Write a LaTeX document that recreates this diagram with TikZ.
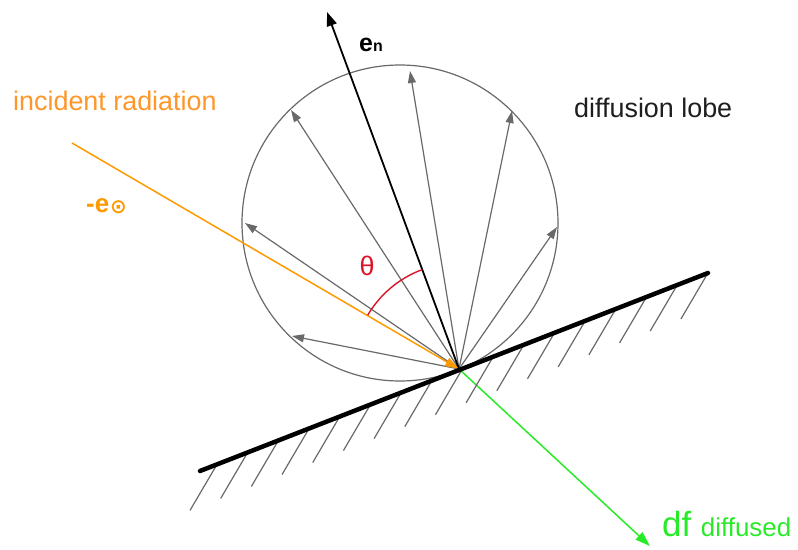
\documentclass[tikz,border=0pt]{standalone}
\usepackage{fontspec}
\setmainfont{Liberation Sans}
\newfontfamily\symfont{DejaVu Sans}
\usetikzlibrary{arrows.meta,calc}
\definecolor{orng}{RGB}{255,153,0}
\definecolor{orngtxt}{RGB}{255,150,40}
\definecolor{grn}{RGB}{40,235,40}
\definecolor{redarc}{RGB}{220,20,40}
\definecolor{lobegray}{RGB}{105,105,105}
\definecolor{darktxt}{RGB}{30,30,30}
\tikzset{
  lobe/.style={draw=lobegray, line width=1.2bp},
  ray/.style={draw=lobegray, line width=1.2bp, -{Triangle[length=12bp,width=8bp]}},
  normalvec/.style={draw=black, line width=1.8bp, -{Triangle[length=14bp,width=10bp]}},
  incident/.style={draw=orng, line width=1.5bp, -{Triangle[length=14bp,width=9bp]}},
  diffusedvec/.style={draw=grn, line width=1.5bp, -{Triangle[length=15bp,width=10bp]}},
  surface/.style={draw=black, line width=4.5bp, line cap=round},
  hatch/.style={draw=lobegray, line width=1.2bp},
  txt/.style={inner sep=0pt, anchor=base west},
}
\begin{document}
\begin{tikzpicture}[x=1bp,y=-1bp]
\useasboundingbox (0,0) rectangle (798,550);
% key points
\coordinate (P) at (459,369);
\coordinate (SL) at (200,471);
\coordinate (SR) at (708,273);
\coordinate (C) at (400,223);
% lobe
\draw[lobe] (C) circle[radius=158];
\coordinate (d1) at (291,110);
\coordinate (d2) at (410,71);
\coordinate (d3) at (512,111);
\coordinate (d4) at (245,223);
\coordinate (d5) at (557,227);
\coordinate (d6) at (292,336);
\foreach \d in {d1,d2,d3,d4,d5,d6} \draw[ray] (P) -- (\d);
% normal
\coordinate (N) at (327,12);
\draw[normalvec] (P) -- (N);
% incident
\coordinate (I) at (72,143);
\draw[incident] (I) -- (P);
% diffused
\coordinate (D) at (650,546);
\draw[diffusedvec] (P) -- (D);
% angle
\draw[draw=redarc, line width=1.4bp] (P) ++(-110.3:106) arc[start angle=-110.3, end angle=-149.5, radius=106];
% surface
\foreach \k in {0,...,16}{
  \pgfmathsetmacro{\t}{0.0335+0.0604*\k}
  \draw[hatch] ($(SL)!\t!(SR)$) -- ++(-27,46);
}
\draw[surface] (SL) -- (SR);
% labels
\node[txt, text=orngtxt, font=\fontsize{27}{30}\selectfont] (lblinc) at (13,111) {incident radiation};
\node[txt, text=darktxt, font=\fontsize{27}{30}\selectfont] (lbllobe) at (574,118) {diffusion lobe};
\node[txt, text=black] (lblen) at (359,52) {\fontsize{25}{28}\selectfont\bfseries e\fontsize{16}{18}\selectfont n};
\node[txt, text=orng] (lble) at (86,213) {\fontsize{26}{28}\selectfont\bfseries -e\kern1bp\raisebox{-1bp}{\symfont\fontsize{20}{22}\selectfont ⊙}};
\node[inner sep=0pt, text=redarc, font=\fontsize{27}{30}\selectfont] (lbltheta) at (367,266) {θ};
\node[txt, text=grn] (lbldf) at (662,536) {\fontsize{35}{38}\selectfont df\ \fontsize{26}{28}\selectfont diffused};
\end{tikzpicture}
\end{document}
